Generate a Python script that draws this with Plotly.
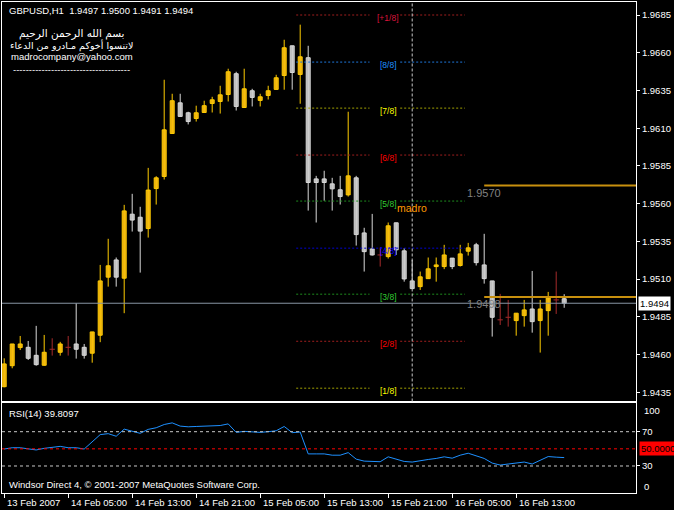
import plotly.graph_objects as go
import pandas as pd

# ---------------- data ----------------
header_text = "GBPUSD,H1\u00a0 1.9497 1.9500 1.9491 1.9494"
rsi_title = "RSI(14) 39.8097"
copyright_text = "Windsor Direct 4, \u00a9 2001-2007 MetaQuotes Software Corp."
info_lines = ["بسم الله الرحمن الرحيم",
              "لاتنسوا أخوكم مـادرو من الدعاء",
              "madrocompany@yahoo.com",
              "-------------------------------------"]

start_time = "2007-02-13 21:00"
n_bars = 71
times = pd.date_range(start_time, periods=n_bars, freq="h")

opens = [1.94387, 1.94526, 1.94646, 1.94648, 1.94595, 1.94529, 1.94635, 1.94615, 1.94648, 1.94670,
         1.94648, 1.94609, 1.94728, 1.95113, 1.95227, 1.95106, 1.95530, 1.95510, 1.95435, 1.95700,
         1.95780, 1.96065, 1.96268, 1.96202, 1.96164, 1.96204, 1.96264, 1.96277, 1.96323, 1.96461,
         1.96237, 1.96348, 1.96284, 1.96317, 1.96357, 1.96449, 1.96646, 1.96456, 1.96567, 1.95764,
         1.95764, 1.95731, 1.95692, 1.95658, 1.95771, 1.95406, 1.95300, 1.95260, 1.95249, 1.95473,
         1.95287, 1.95088, 1.95050, 1.95103, 1.95183, 1.95183, 1.95239, 1.95190, 1.95285, 1.95327,
         1.95194, 1.95088, 1.94830, 1.94847, 1.94825, 1.94858, 1.94902, 1.94825, 1.94891, 1.94962,
         1.94970]
highs = [1.94575, 1.94670, 1.94723, 1.94690, 1.94790, 1.94730, 1.94708, 1.94684, 1.94723, 1.94940,
         1.94670, 1.94750, 1.95194, 1.95367, 1.95243, 1.95592, 1.95665, 1.95579, 1.95837, 1.95782,
         1.96421, 1.96328, 1.96328, 1.96209, 1.96249, 1.96282, 1.96308, 1.96381, 1.96494, 1.96474,
         1.96494, 1.96361, 1.96328, 1.96381, 1.96454, 1.96686, 1.96646, 1.96786, 1.96646, 1.95784,
         1.95818, 1.95771, 1.95784, 1.96209, 1.95784, 1.95440, 1.95532, 1.95309, 1.95475, 1.95473,
         1.95305, 1.95227, 1.95150, 1.95243, 1.95243, 1.95327, 1.95239, 1.95327, 1.95340, 1.95340,
         1.95400, 1.95088, 1.95002, 1.94962, 1.94874, 1.94962, 1.95154, 1.94962, 1.95015, 1.95150,
         1.95000]
lows = [1.94383, 1.94509, 1.94630, 1.94564, 1.94526, 1.94526, 1.94593, 1.94593, 1.94593, 1.94573,
        1.94573, 1.94546, 1.94682, 1.95050, 1.95050, 1.94874, 1.95415, 1.95143, 1.95375, 1.95594,
        1.95760, 1.96065, 1.96178, 1.96125, 1.96144, 1.96204, 1.96204, 1.96197, 1.96277, 1.96217,
        1.96237, 1.96244, 1.96244, 1.96290, 1.96357, 1.96355, 1.96355, 1.96262, 1.95554, 1.95475,
        1.95619, 1.95554, 1.95594, 1.95647, 1.95322, 1.95150, 1.95256, 1.95183, 1.95236, 1.95260,
        1.95083, 1.95037, 1.95028, 1.95103, 1.95083, 1.95166, 1.95166, 1.95183, 1.95256, 1.95190,
        1.95070, 1.94719, 1.94796, 1.94785, 1.94725, 1.94785, 1.94745, 1.94613, 1.94725, 1.94869,
        1.94910]
closes = [1.94538, 1.94670, 1.94670, 1.94575, 1.94533, 1.94615, 1.94635, 1.94670, 1.94648, 1.94635,
          1.94595, 1.94750, 1.95088, 1.95188, 1.95113, 1.95552, 1.95491, 1.95418, 1.95690, 1.95771,
          1.96089, 1.96282, 1.96178, 1.96144, 1.96202, 1.96249, 1.96288, 1.96321, 1.96474, 1.96244,
          1.96361, 1.96304, 1.96308, 1.96348, 1.96434, 1.96633, 1.96469, 1.96573, 1.95740, 1.95740,
          1.95740, 1.95698, 1.95647, 1.95784, 1.95395, 1.95282, 1.95260, 1.95260, 1.95453, 1.95294,
          1.95101, 1.95037, 1.95115, 1.95168, 1.95194, 1.95260, 1.95183, 1.95267, 1.95307, 1.95209,
          1.95103, 1.94847, 1.94830, 1.94847, 1.94874, 1.94896, 1.94818, 1.94902, 1.94977, 1.94962,
          1.94940]
rsi = [49.8, 51.3, 51.3, 49.8, 48.7, 50.6, 51.7, 52.9, 51.3, 51.3,
       49.8, 58.2, 66.6, 67.7, 64.7, 73.0, 70.4, 68.1, 72.7, 74.6,
       78.4, 80.3, 76.5, 75.7, 76.1, 76.5, 76.9, 77.2, 79.1, 69.2,
       70.4, 69.6, 69.2, 70.0, 71.1, 76.1, 68.9, 69.6, 44.1, 44.1,
       44.1, 42.6, 42.6, 45.6, 38.0, 35.7, 35.0, 35.0, 40.7, 38.0,
       35.3, 34.6, 36.5, 37.6, 38.8, 40.7, 39.1, 42.6, 44.9, 42.2,
       38.8, 33.4, 31.1, 32.3, 33.8, 34.6, 32.3, 36.9, 41.0, 40.3,
       39.8097]

price_ticks = [1.9435, 1.9460, 1.9485, 1.9510, 1.9535, 1.9560, 1.9585, 1.9610, 1.9635, 1.9660, 1.9685]
time_ticks = ["2007-02-13 21:00", "2007-02-14 05:00", "2007-02-14 13:00", "2007-02-14 21:00",
              "2007-02-15 05:00", "2007-02-15 13:00", "2007-02-15 21:00", "2007-02-16 05:00",
              "2007-02-16 13:00"]
time_tick_labels = ["13 Feb 2007", "14 Feb 05:00", "14 Feb 13:00", "14 Feb 21:00", "15 Feb 05:00",
                    "15 Feb 13:00", "15 Feb 21:00", "16 Feb 05:00", "16 Feb 13:00"]

last_price = 1.9494
rsi_levels = [70, 50, 30]

murrey_labels = ["[1/8]", "[2/8]", "[3/8]", "[4/8]", "[5/8]", "[6/8]", "[7/8]", "[8/8]", "[+1/8]"]
murrey_levels = [1.94377, 1.94688, 1.95000, 1.95305, 1.95617, 1.95922, 1.96233, 1.96538, 1.96850]
murrey_line_colors = ["#A0A000", "#A01E1E", "#1E8C1E", "#0000D0", "#1E8C1E", "#A01E1E", "#A0A000", "#1E78DC", "#A01E1E"]
murrey_text_colors = ["#FFFF00", "#FF0000", "#32CD32", "#0000FF", "#32CD32", "#FF0000", "#FFFF00", "#1E90FF", "#DC143C"]
murrey_times = ["2007-02-15 09:30", "2007-02-15 18:40", "2007-02-15 22:30", "2007-02-16 06:35"]
murrey_label_time = "2007-02-15 21:00"
day_separator = "2007-02-16 00:00"
madro_label = "madro"

gold_levels = [1.95720, 1.94982]
gold_labels = ["1.9570", "1.9498"]
gold_start = "2007-02-16 09:00"

x_range = ["2007-02-13 20:43:30", "2007-02-17 03:58:30"]
y_range = [1.94289, 1.969362]
rsi_range = [-1.5, 102.9]

# ---------------- styles ----------------
FONT = "Liberation Sans"
FS = 9.5
BULL_FILL, BULL_EDGE = "#E6A817", "#FFCC00"
BEAR_FILL, BEAR_EDGE = "#B4B4B4", "#D8D8D8"
DOJI = "#A52A2A"
HOUR_MS = 3600 * 1000

bull = [i for i in range(n_bars) if closes[i] > opens[i]]
bear = [i for i in range(n_bars) if closes[i] < opens[i]]
doji = [i for i in range(n_bars) if closes[i] == opens[i]]

fig = go.Figure()


def wick_xy(idx):
    xs, ys = [], []
    for i in idx:
        xs += [times[i], times[i], None]
        ys += [lows[i], highs[i], None]
    return xs, ys


for idx, col in [(bull, BULL_EDGE), (bear, BEAR_EDGE), (doji, DOJI)]:
    xs, ys = wick_xy(idx)
    fig.add_trace(go.Scatter(x=xs, y=ys, mode="lines", line=dict(color=col, width=1),
                             hoverinfo="skip", xaxis="x", yaxis="y"))

# doji crosses
dx, dy = [], []
for i in doji:
    dx += [times[i] - pd.Timedelta(minutes=20), times[i] + pd.Timedelta(minutes=20), None]
    dy += [closes[i], closes[i], None]
fig.add_trace(go.Scatter(x=dx, y=dy, mode="lines", line=dict(color=DOJI, width=1),
                         hoverinfo="skip", xaxis="x", yaxis="y"))

for idx, fill, edge in [(bull, BULL_FILL, BULL_EDGE), (bear, BEAR_FILL, BEAR_EDGE)]:
    fig.add_trace(go.Bar(
        x=[times[i] for i in idx],
        y=[abs(closes[i] - opens[i]) for i in idx],
        base=[min(opens[i], closes[i]) for i in idx],
        width=[0.5 * HOUR_MS] * len(idx),
        marker=dict(color=fill, line=dict(color=edge, width=1)),
        hoverinfo="skip", xaxis="x", yaxis="y"))

# RSI
fig.add_trace(go.Scatter(x=times, y=rsi, mode="lines", line=dict(color="#1E90FF", width=1),
                         hoverinfo="skip", xaxis="x2", yaxis="y2"))

shapes = []
# Murrey math levels
for k, lvl in enumerate(murrey_levels):
    if murrey_labels[k] == "[4/8]":
        segs = [(murrey_times[0], murrey_times[3])]
    else:
        segs = [(murrey_times[0], murrey_times[1]), (murrey_times[2], murrey_times[3])]
    for a, b in segs:
        shapes.append(dict(type="line", xref="x", yref="y", x0=a, x1=b, y0=lvl, y1=lvl,
                           line=dict(color=murrey_line_colors[k], width=1, dash="2px,2px")))
# day separator
shapes.append(dict(type="line", xref="x", yref="y domain", x0=day_separator, x1=day_separator,
                   y0=0, y1=1, line=dict(color="#C8C8C8", width=1, dash="3px,2px")))
# gold lines
for lvl in gold_levels:
    shapes.append(dict(type="line", xref="x", yref="y", x0=gold_start, x1=x_range[1], y0=lvl, y1=lvl,
                       line=dict(color="#C8900E", width=2)))
# last price line
shapes.append(dict(type="line", xref="x domain", yref="y", x0=0, x1=1, y0=last_price, y1=last_price,
                   line=dict(color="#8896A4", width=1)))
# RSI levels
for lv in rsi_levels:
    shapes.append(dict(type="line", xref="x2 domain", yref="y2", x0=0, x1=1, y0=lv, y1=lv,
                       line=dict(color="#FF0000" if lv == 50 else "#C8C8C8", width=1, dash="3px,3px")))

ann = []


def txt(text, x, y, xanchor="left", color="white", size=FS, family=FONT, **kw):
    d = dict(text=text, x=x, y=y, xref=kw.pop("xref", "paper"), yref=kw.pop("yref", "paper"),
             xanchor=xanchor, yanchor=kw.pop("yanchor", "middle"), showarrow=False,
             font=dict(color=color, size=size, family=family))
    d.update(kw)
    ann.append(d)


txt(header_text, 0.0074, 0.9823)
txt(info_lines[0], 0.1104, 0.9363, xanchor="center", family="DejaVu Sans", size=10.5)
txt(info_lines[1], 0.1104, 0.9124, xanchor="center", family="DejaVu Sans", size=9.5)
txt(info_lines[2], 0.1104, 0.8886, xanchor="center")
txt(info_lines[3], 0.1104, 0.8629, xanchor="center")
txt(rsi_title, 0.0074, 0.1609)
txt(copyright_text, 0.0074, 0.0163)

for k, lvl in enumerate(murrey_levels):
    txt(murrey_labels[k], murrey_label_time, lvl, xanchor="center", color=murrey_text_colors[k],
        size=8.5, xref="x", yref="y", yshift=-3)
txt(madro_label, day_separator, murrey_levels[4], xanchor="center", color="#FF9900", size=10.5,
    xref="x", yref="y", yshift=-6.5)
for lvl, lab in zip(gold_levels, gold_labels):
    txt(lab, gold_start, lvl, xanchor="center", color="#808080", size=11, xref="x", yref="y", yshift=-7)

# price box & RSI labels
txt("1.9494", 1.0032, last_price, color="black", yref="y", bgcolor="white", borderpad=1)
txt("50.0000", 1.0047, 50, color="black", yref="y2", bgcolor="#FF0000", borderpad=1)
txt("100", 1.0095, 0.1676)
txt("0", 1.0095, 0.0128)

for t, lab in zip(time_ticks, time_tick_labels):
    txt(lab, t, -0.019, xref="x2", xshift=1)

axis_common = dict(showgrid=False, zeroline=False, showline=True, mirror=True,
                   linecolor="white", linewidth=1)

fig.update_layout(
    width=674, height=510,
    margin=dict(l=2, r=38, t=2, b=17),
    paper_bgcolor="black", plot_bgcolor="black",
    showlegend=False, barmode="overlay",
    shapes=shapes, annotations=ann,
    xaxis=dict(domain=[0, 1], anchor="y", type="date", range=x_range, showticklabels=False,
               ticks="", **axis_common),
    yaxis=dict(domain=[0.1864, 1], anchor="x", side="right", range=y_range,
               tickvals=price_ticks, ticktext=[f"{p:.4f}" for p in price_ticks],
               ticks="outside", ticklen=3, tickcolor="white",
               tickfont=dict(color="white", size=FS, family=FONT), **axis_common),
    xaxis2=dict(domain=[0, 1], anchor="y2", type="date", range=x_range, tickvals=time_ticks,
                showticklabels=False, ticks="outside", ticklen=4, tickcolor="white", **axis_common),
    yaxis2=dict(domain=[0, 0.1823], anchor="x2", side="right", range=rsi_range,
                tickvals=[70, 30], ticktext=["70", "30"], ticks="outside", ticklen=3,
                tickcolor="white", tickfont=dict(color="white", size=FS, family=FONT), **axis_common),
)

fig.write_html("out.html", config={"displayModeBar": False},
               post_script="document.body.style.margin='0';document.body.style.overflow='hidden';"
                           "document.body.style.background='black';")
